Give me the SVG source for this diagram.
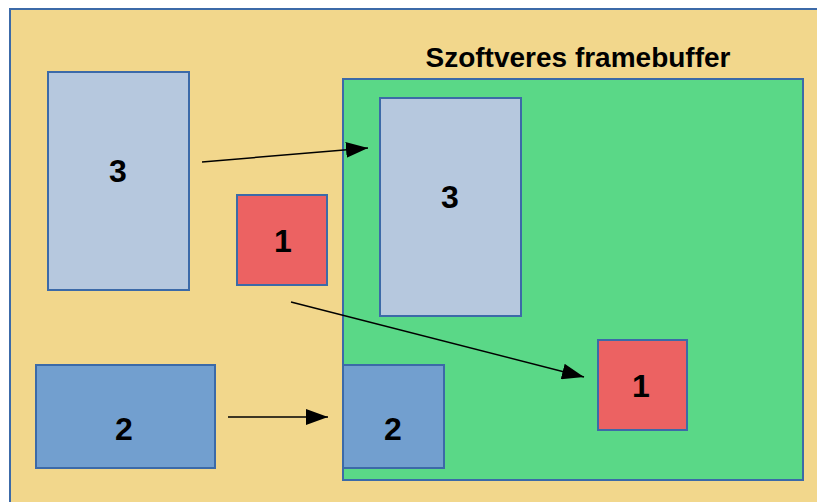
<svg xmlns="http://www.w3.org/2000/svg" width="817" height="502" viewBox="0 0 817 502">
  <defs>
    <marker id="arrow" viewBox="0 0 22 16" refX="22" refY="8" markerWidth="22" markerHeight="16" markerUnits="userSpaceOnUse" orient="auto">
      <path d="M0,0 L22,8 L0,16 z" fill="#000"/>
    </marker>
    <style>
      .box { stroke: #3c6aa8; stroke-width: 2; }
      .bg { fill: #f2d78c; }
      .fb { fill: #5ad887; }
      .pale { fill: #b6c8de; }
      .red { fill: #ec6262; }
      .blue { fill: #729fcf; }
      .lbl { font-family: "Liberation Sans", Arial, sans-serif; font-weight: bold; font-size: 32px; fill: #000; text-anchor: middle; }
      .title { font-family: "Liberation Sans", Arial, sans-serif; font-weight: bold; font-size: 28px; fill: #000; text-anchor: middle; }
      .conn { stroke: #000; stroke-width: 1.5; fill: none; marker-end: url(#arrow); }
    </style>
  </defs>
  <rect width="817" height="502" fill="#ffffff"/>
  <!-- desktop area -->
  <g id="desktop">
    <rect class="box bg" x="10" y="9" width="820" height="510"/>
  </g>
  <g id="framebuffer">
    <rect class="box fb" x="343" y="79" width="460" height="401"/>
    <text class="title" x="578" y="67">Szoftveres framebuffer</text>
  </g>
  <g id="win3-src">
    <rect class="box pale" x="48" y="72" width="141" height="218"/>
    <text class="lbl" x="118" y="182">3</text>
  </g>
  <g id="win1-src">
    <rect class="box red" x="237" y="195" width="90" height="90"/>
    <text class="lbl" x="283" y="252">1</text>
  </g>
  <g id="win2-src">
    <rect class="box blue" x="36" y="365" width="179" height="103"/>
    <text class="lbl" x="124" y="440">2</text>
  </g>
  <g id="win3-dst">
    <rect class="box pale" x="380" y="98" width="141" height="218"/>
    <text class="lbl" x="450" y="208">3</text>
  </g>
  <g id="win1-dst">
    <rect class="box red" x="598" y="340" width="89" height="90"/>
    <text class="lbl" x="641" y="397">1</text>
  </g>
  <g id="win2-dst">
    <rect class="box blue" x="343" y="365" width="101" height="103"/>
    <text class="lbl" x="393" y="440">2</text>
  </g>
  <g id="connectors">
    <line class="conn" x1="202" y1="162" x2="368" y2="148"/>
    <line class="conn" x1="291" y1="302" x2="584" y2="377"/>
    <line class="conn" x1="228" y1="417" x2="328" y2="417"/>
  </g>
</svg>
